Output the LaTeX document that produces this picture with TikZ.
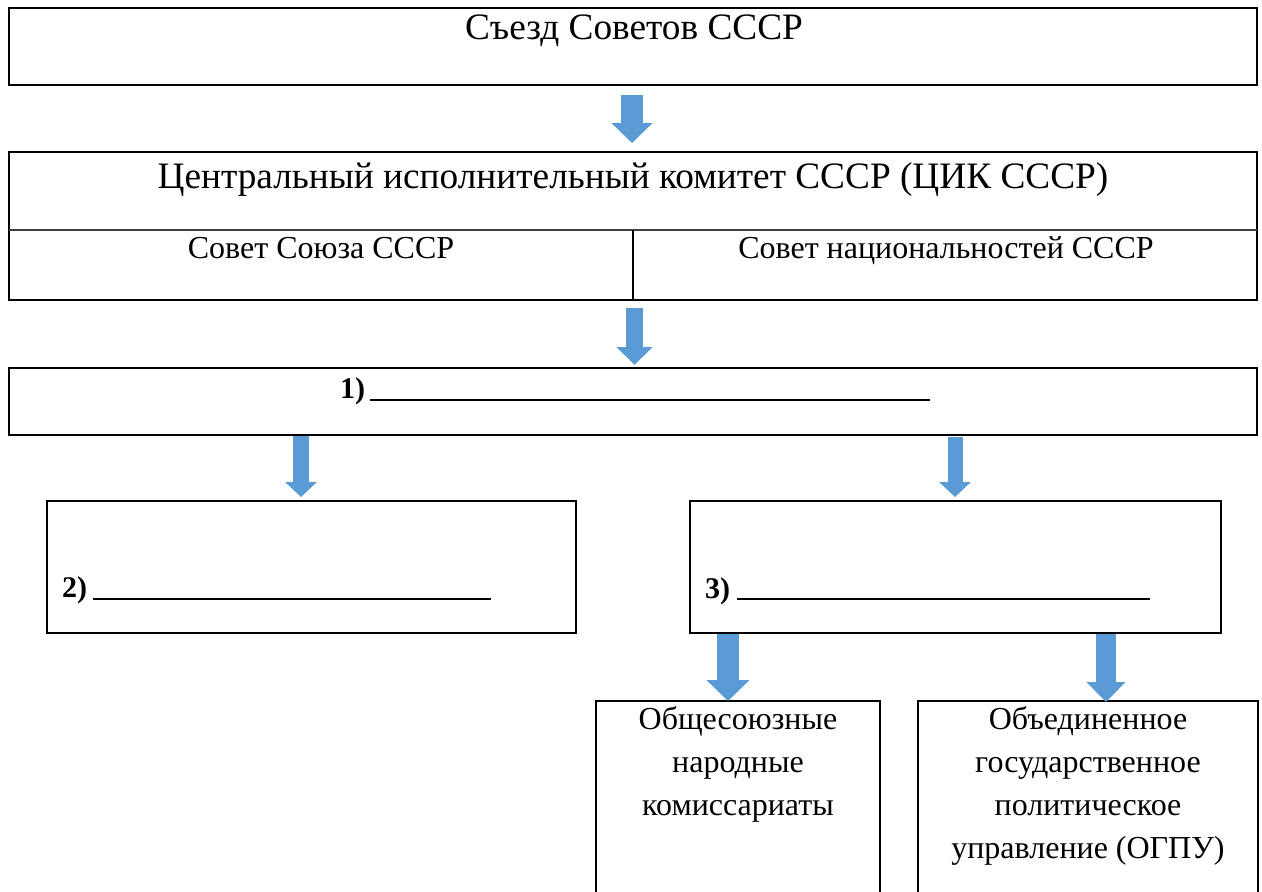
\documentclass[tikz,border=0pt]{standalone}
\usepackage{fontspec}
\setmainfont{Liberation Serif}
\usetikzlibrary{arrows.meta}
\definecolor{arrblue}{HTML}{5B9BD5}
\tikzset{
  box/.style={draw=black, line width=1.6pt, rectangle, inner sep=0pt},
  bigtxt/.style={font=\fontsize{37.3}{44}\selectfont, anchor=base, inner sep=0pt},
  midtxt/.style={font=\fontsize{32}{38}\selectfont, anchor=base, inner sep=0pt},
  numtxt/.style={font=\fontsize{30}{36}\selectfont\bfseries, anchor=base, inner sep=0pt},
  stacktxt/.style={font=\fontsize{32}{42.7}\selectfont, align=center, anchor=base, inner sep=0pt},
  blank/.style={line width=1.3pt, black},
  barrow/.style={draw=arrblue, line width=#1}
}
\begin{document}
\begin{tikzpicture}[x=1pt,y=-1pt]
\clip (0,0) rectangle (1262,892);
\fill[white] (0,0) rectangle (1262,892);
% boxes
\node[box, minimum width=1248pt, minimum height=77pt] (b1) at (633,46.5) {};
\node[box, minimum width=1248pt, minimum height=148pt] (b2) at (633,226) {};
\node[box, minimum width=1248pt, minimum height=67pt] (b3) at (633,401.5) {};
\node[box, minimum width=529pt, minimum height=132pt] (b4) at (311.5,567) {};
\node[box, minimum width=531pt, minimum height=132pt] (b5) at (955.5,567) {};
\node[box, minimum width=284pt, minimum height=210pt] (b6) at (738,806) {};
\node[box, minimum width=340pt, minimum height=210pt] (b7) at (1088,806) {};
% dividers in b2
\coordinate (dl) at (9,230);
\coordinate (dr) at (1257,230);
\coordinate (dm) at (633,230);
\draw[line width=1.6pt, black!75] (dl) -- (dr);
\draw[line width=1.6pt] (dm) -- (dm |- b2.south);
% texts
\node[bigtxt] (t1) at (634,39) {Съезд Советов СССР};
\node[bigtxt] (t2) at (633,188) {Центральный исполнительный комитет СССР (ЦИК СССР)};
\node[midtxt] (t3) at (321,258) {Совет Союза СССР};
\node[midtxt] (t4) at (946,258) {Совет национальностей СССР};
\node[numtxt, anchor=base west] (n1) at (340,398) {1)};
\node[numtxt, anchor=base west] (n2) at (62,597) {2)};
\node[numtxt, anchor=base west] (n3) at (705,598) {3)};
\coordinate (u1a) at (370,400); \coordinate (u1b) at (930,400);
\coordinate (u2a) at (93,599);  \coordinate (u2b) at (491,599);
\coordinate (u3a) at (737,599); \coordinate (u3b) at (1150,599);
\draw[blank] (u1a) -- (u1b);
\draw[blank] (u2a) -- (u2b);
\draw[blank] (u3a) -- (u3b);
\node[stacktxt] (t6) at (738,815) {Общесоюзные\\народные\\комиссариаты};
\node[stacktxt] (t7) at (1088,858) {Объединенное\\государственное\\политическое\\управление (ОГПУ)};
% arrows
\coordinate (a1s) at (632,95);   \coordinate (a1e) at (632,143);
\coordinate (a2s) at (634.5,308); \coordinate (a2e) at (634.5,365);
\coordinate (a3s) at (301,436);  \coordinate (a3e) at (301,497);
\coordinate (a4s) at (955,437);  \coordinate (a4e) at (955,497);
\coordinate (a5s) at (728,634);  \coordinate (a5e) at (728,701);
\coordinate (a6s) at (1106,634); \coordinate (a6e) at (1106,702);
\draw[barrow=22pt, -{Triangle[width=40pt,length=20pt]}, arrblue] (a1s) -- (a1e);
\draw[barrow=17pt, -{Triangle[width=35pt,length=18pt]}, arrblue] (a2s) -- (a2e);
\draw[barrow=16pt, -{Triangle[width=31pt,length=15pt]}, arrblue] (a3s) -- (a3e);
\draw[barrow=15pt, -{Triangle[width=31pt,length=15pt]}, arrblue] (a4s) -- (a4e);
\draw[barrow=22pt, -{Triangle[width=42pt,length=21pt]}, arrblue] (a5s) -- (a5e);
\draw[barrow=20pt, -{Triangle[width=38pt,length=20pt]}, arrblue] (a6s) -- (a6e);
\end{tikzpicture}
\end{document}
